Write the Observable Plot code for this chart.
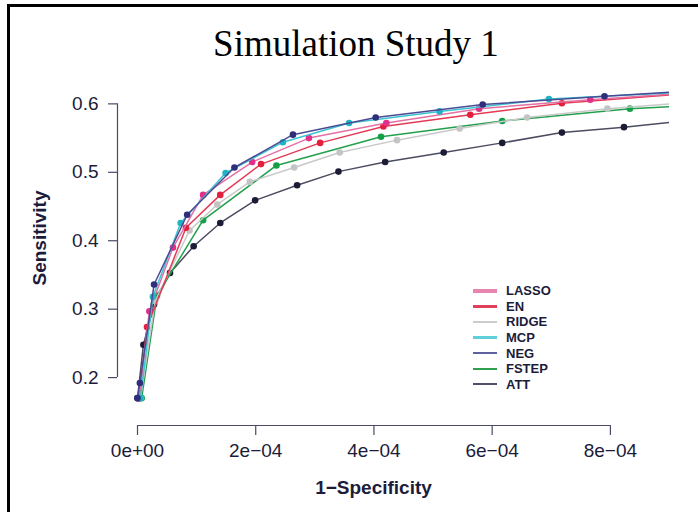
<!DOCTYPE html>
<html>
<head>
<meta charset="utf-8">
<script src="https://cdn.jsdelivr.net/npm/d3@7"></script>
<script src="https://cdn.jsdelivr.net/npm/@observablehq/plot@0.6"></script>
<style>
  html, body { margin: 0; padding: 0; background: #fff; }
  #wrap { position: relative; width: 698px; height: 512px; overflow: hidden; background: #fff; }
  #topline { position: absolute; left: 7px; top: 4px; width: 691px; height: 3px; background: #000; }
  #leftline { position: absolute; left: 7px; top: 4px; width: 3px; height: 508px; background: #000; }
  #title { position: absolute; left: 0; top: 23px; width: 712px; text-align: center; line-height: 1.15;
           font-family: "Liberation Serif", "DejaVu Serif", serif; font-size: 37px; color: #000; }
  #legend { position: absolute; left: 473px; top: 283px; font-family: "Liberation Sans", Arial, sans-serif;
            font-weight: bold; font-size: 13px; color: #1c1c3a; }
  #ylabel { position: absolute; left: 40px; top: 238px; transform: translate(-50%, -50%) rotate(-90deg);
            font-family: "Liberation Sans", Arial, sans-serif; font-weight: bold; font-size: 19px; color: #1c1c3a;
            white-space: nowrap; }
  .row { display: flex; align-items: center; height: 15.6px; }
  .sw { width: 24px; margin-right: 9px; }
  svg { position: absolute; left: 0; top: 0; }
</style>
</head>
<body>
<div id="wrap">
  <div id="topline"></div>
  <div id="leftline"></div>
  <div id="title">Simulation Study 1</div>
</div>
<script>
// ---- data (x = 1-Specificity, y = Sensitivity) ----
const series = ["LASSO", "EN", "RIDGE", "MCP", "NEG", "FSTEP", "ATT"];

const lassoX = [0.03e-4, 0.20e-4, 0.60e-4, 1.11e-4, 1.94e-4, 2.90e-4, 4.21e-4, 5.78e-4, 7.66e-4, 9.0e-4];
const lassoY = [0.170, 0.297, 0.390, 0.467, 0.515, 0.550, 0.572, 0.593, 0.606, 0.614];

const enX = [0.03e-4, 0.16e-4, 0.82e-4, 1.40e-4, 2.09e-4, 3.09e-4, 4.16e-4, 5.63e-4, 7.18e-4, 9.0e-4];
const enY = [0.170, 0.274, 0.419, 0.467, 0.512, 0.543, 0.567, 0.584, 0.601, 0.613];

const ridgeX = [0.05e-4, 0.30e-4, 0.88e-4, 1.35e-4, 1.90e-4, 2.65e-4, 3.42e-4, 4.39e-4, 5.45e-4, 6.59e-4, 7.95e-4, 9.0e-4];
const ridgeY = [0.170, 0.312, 0.415, 0.453, 0.486, 0.507, 0.529, 0.547, 0.564, 0.580, 0.593, 0.600];

const mcpX = [0.05e-4, 0.26e-4, 0.73e-4, 1.49e-4, 2.46e-4, 3.58e-4, 5.11e-4, 6.96e-4, 9.0e-4];
const mcpY = [0.170, 0.318, 0.426, 0.499, 0.544, 0.572, 0.589, 0.607, 0.616];

const negX = [0.00e-4, 0.04e-4, 0.28e-4, 0.84e-4, 1.64e-4, 2.63e-4, 4.03e-4, 5.84e-4, 7.90e-4, 9.0e-4];
const negY = [0.170, 0.192, 0.336, 0.438, 0.507, 0.555, 0.580, 0.599, 0.611, 0.617];

const fstepX = [0.07e-4, 0.33e-4, 1.11e-4, 2.35e-4, 4.12e-4, 6.17e-4, 8.33e-4, 9.0e-4];
const fstepY = [0.170, 0.320, 0.430, 0.510, 0.552, 0.575, 0.593, 0.596];

const attX = [0.00e-4, 0.10e-4, 0.28e-4, 0.55e-4, 0.95e-4, 1.40e-4, 1.99e-4, 2.70e-4, 3.40e-4, 4.19e-4, 5.18e-4, 6.17e-4, 7.18e-4, 8.23e-4, 9.0e-4];
const attY = [0.170, 0.248, 0.307, 0.353, 0.392, 0.426, 0.459, 0.481, 0.501, 0.515, 0.529, 0.543, 0.558, 0.566, 0.573];

const xTicks = [0, 2e-4, 4e-4, 6e-4, 8e-4];
const xTickLabels = ["0e+00", "2e\u221204", "4e\u221204", "6e\u221204", "8e\u221204"];
const yTicks = [0.2, 0.3, 0.4, 0.5, 0.6];
const yTickLabels = ["0.2", "0.3", "0.4", "0.5", "0.6"];
const xLabel = "1\u2212Specificity";
const yLabel = "Sensitivity";

// ---- styles ----
const lineColors = ["#e470a4", "#e33a55", "#c9c9c9", "#3cc4cf", "#4b4b95", "#22a04c", "#4c4c62"];
const dotColors  = ["#e0308a", "#e41e3c", "#c4c4c4", "#1fb3c4", "#2e2e7a", "#13a047", "#1c1c36"];
const legendColors = ["#e884b0", "#e0405a", "#cccccc", "#60d0d8", "#6060a0", "#30a050", "#505068"];
const legendWidths = [3.5, 2.5, 1.5, 3.5, 2, 2, 2];

const xsArr = [lassoX, enX, ridgeX, mcpX, negX, fstepX, attX];
const ysArr = [lassoY, enY, ridgeY, mcpY, negY, fstepY, attY];
const xDomain = [0, 9e-4];
const yDomain = [0.13, 0.64];

const drawOrder = [6, 5, 2, 1, 0, 3, 4];
const marks = [];
for (const i of drawOrder) {
  const rows = xsArr[i].map((x, j) => ({x, y: ysArr[i][j]}));
  marks.push(Plot.line(rows, {x: "x", y: "y", stroke: lineColors[i], strokeWidth: 1.5, clip: true}));
  marks.push(Plot.dot(rows.filter(d => d.x < xDomain[1]), {x: "x", y: "y", fill: dotColors[i], r: 3.3}));
}

const axisColor = "#4a4a66";
const textColor = "#1c1c3a";

const chart = Plot.plot({
  width: 698,
  height: 512,
  marginLeft: 137,
  marginRight: 29,
  marginTop: 76,
  marginBottom: 87,
  style: {background: "transparent", fontFamily: "'Liberation Sans', Arial, sans-serif"},
  x: {domain: xDomain},
  y: {domain: yDomain},
  marks: [
    ...marks,
    Plot.ruleY([yDomain[0]], {x1: xTicks[0], x2: xTicks[xTicks.length - 1], stroke: axisColor, strokeWidth: 1.2}),
    Plot.ruleX([xDomain[0]], {y1: yTicks[0], y2: yTicks[yTicks.length - 1], dx: -20, stroke: axisColor, strokeWidth: 1.2}),
    Plot.axisX({ticks: xTicks, tickFormat: (d, i) => xTickLabels[i], tickSize: 10, tickPadding: 8,
                fontSize: 19, stroke: axisColor, fill: textColor, strokeWidth: 1.2, label: null}),
    Plot.axisY({ticks: yTicks, tickFormat: (d, i) => yTickLabels[i], tickSize: 9, tickPadding: 10, dx: -20,
                fontSize: 19, stroke: axisColor, fill: textColor, strokeWidth: 1.2, label: null}),
    Plot.text([xLabel], {frameAnchor: "bottom", dx: -30, dy: 68, fontSize: 19, fontWeight: "bold", fill: textColor})
  ]
});

const wrap = document.getElementById("wrap");
wrap.appendChild(chart);

const yl = document.createElement("div");
yl.id = "ylabel";
yl.textContent = yLabel;
wrap.appendChild(yl);

// legend
const legend = document.createElement("div");
legend.id = "legend";
series.forEach((s, i) => {
  const row = document.createElement("div");
  row.className = "row";
  const sw = document.createElement("div");
  sw.className = "sw";
  sw.style.height = legendWidths[i] + "px";
  sw.style.background = legendColors[i];
  const t = document.createElement("span");
  t.textContent = s;
  row.appendChild(sw);
  row.appendChild(t);
  legend.appendChild(row);
});
wrap.appendChild(legend);
</script>
</body>
</html>
